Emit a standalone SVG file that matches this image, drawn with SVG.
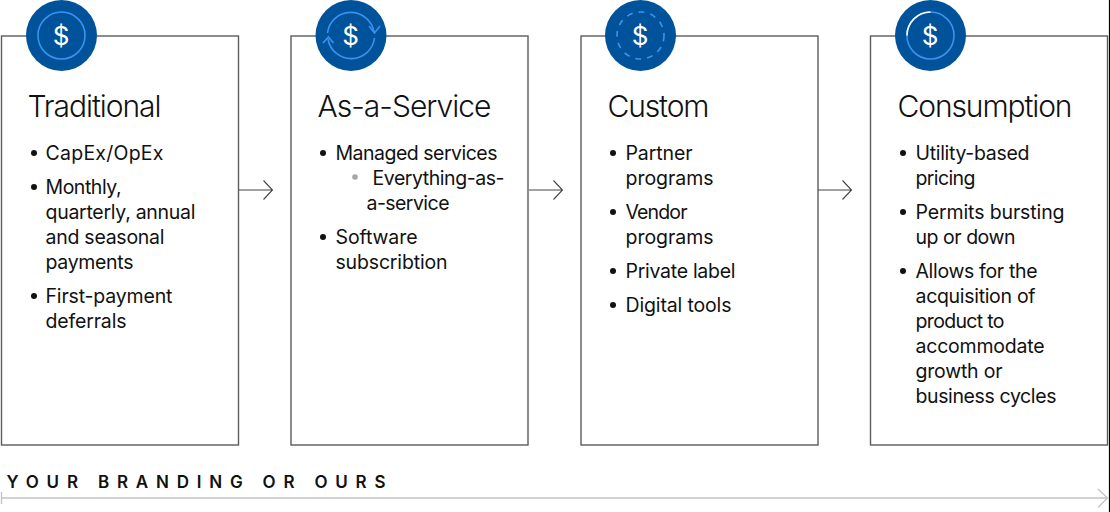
<svg xmlns="http://www.w3.org/2000/svg" width="1110" height="512" viewBox="0 0 1110 512">
<style>
text{font-family:"Inter","Liberation Sans",sans-serif;fill:#111}
.box{fill:#fff;stroke:#5c5c5c;stroke-width:1.4}
.disc{fill:#00539a}
.ring{fill:none;stroke:#3b92ee;stroke-width:1.6}
.head{fill:none;stroke:#3b92ee;stroke-width:1.6}
.dollar{font-size:26px;fill:#fff;text-anchor:middle;font-weight:400}
.title{font-size:30px;font-weight:300}
.body{font-size:19.500px;font-weight:400}
.bul{fill:#111}
.conn{fill:none;stroke:#444;stroke-width:1.1}
.span{fill:none;stroke:#c4c4c4;stroke-width:1.4}
</style>
<rect width="1110" height="512" fill="#fff"/>
<g id="connectors">
<path class="conn" d="M239 190H272M263.500 180.500L272.500 190L263.500 199.500"/>
<path class="conn" d="M529 190H562M553.500 180.500L562.500 190L553.500 199.500"/>
<path class="conn" d="M818 190H851M842.500 180.500L851.500 190L842.500 199.500"/>
<path class="span" d="M1.500 498H1107M1098 489L1107.500 498L1098 507.500"/>
<path class="span" d="M1.500 492V504" stroke-width="1"/>
</g>
<g id="node-traditional">
<rect class="box" x="1.500" y="36" width="237" height="409"/>
<circle class="disc" cx="61.500" cy="35.500" r="35.500"/>
<circle class="ring" cx="61.500" cy="35.500" r="23.500"/>
<text class="dollar" x="61" y="45">$</text>
<text class="title" x="27.500" y="117" textLength="134">Traditional</text>
<circle class="bul" cx="34" cy="153" r="3"/><text class="body" x="45.500" y="160" textLength="118">CapEx/OpEx</text>
<circle class="bul" cx="34" cy="187" r="3"/><text class="body" x="45.500" y="194" textLength="76">Monthly,</text>
<text class="body" x="45.500" y="219" textLength="150">quarterly, annual</text>
<text class="body" x="45.500" y="244" textLength="119">and seasonal</text>
<text class="body" x="45.500" y="269" textLength="88">payments</text>
<circle class="bul" cx="34" cy="296" r="3"/><text class="body" x="45.500" y="303" textLength="127">First-payment</text>
<text class="body" x="45.500" y="328" textLength="81">deferrals</text>
</g>
<g id="node-as-a-service">
<rect class="box" x="291" y="36" width="237" height="409"/>
<circle class="disc" cx="351" cy="35.500" r="35.500"/>
<path class="ring" d="M327.500 33A23.500 23.500 0 0 1 374 32"/>
<path class="ring" d="M374.500 38A23.500 23.500 0 0 1 328 39"/>
<path class="head" d="M369 26L374.500 33L380 26M323 43L328.500 37L333.500 43"/>
<text class="dollar" x="350.500" y="45">$</text>
<text class="title" x="317.500" y="117" textLength="174">As-a-Service</text>
<circle class="bul" cx="323" cy="153" r="3"/><text class="body" x="335.500" y="160" textLength="162">Managed services</text>
<circle cx="355" cy="177" r="2.800" fill="#a6a6a6"/><text class="body" x="372.500" y="185" textLength="132">Everything-as-</text>
<text class="body" x="366.500" y="210" textLength="83">a-service</text>
<circle class="bul" cx="323" cy="237" r="3"/><text class="body" x="335.500" y="244" textLength="82">Software</text>
<text class="body" x="335.500" y="269" textLength="112">subscribtion</text>
</g>
<g id="node-custom">
<rect class="box" x="581" y="36" width="237" height="409"/>
<circle class="disc" cx="640.500" cy="35.500" r="35.500"/>
<circle class="ring" cx="640.500" cy="35.500" r="23.500" stroke-dasharray="6 6"/>
<text class="dollar" x="640" y="45">$</text>
<text class="title" x="607.500" y="117" textLength="102">Custom</text>
<circle class="bul" cx="613" cy="153" r="3"/><text class="body" x="625.500" y="160" textLength="67">Partner</text>
<text class="body" x="625.500" y="185" textLength="88">programs</text>
<circle class="bul" cx="613" cy="212" r="3"/><text class="body" x="625.500" y="219" textLength="62">Vendor</text>
<text class="body" x="625.500" y="244" textLength="88">programs</text>
<circle class="bul" cx="613" cy="271" r="3"/><text class="body" x="625.500" y="278" textLength="110">Private label</text>
<circle class="bul" cx="613" cy="305" r="3"/><text class="body" x="625.500" y="312" textLength="106">Digital tools</text>
</g>
<g id="node-consumption">
<rect class="box" x="870.500" y="36" width="237" height="409"/>
<circle class="disc" cx="930.500" cy="35.500" r="35.500"/>
<circle class="ring" cx="930.500" cy="35.500" r="23.500"/>
<path d="M907 35.500A23.500 23.500 0 0 1 930.500 12" fill="none" stroke="#fff" stroke-width="1.600"/>
<text class="dollar" x="930" y="45">$</text>
<text class="title" x="897.500" y="117" textLength="175">Consumption</text>
<circle class="bul" cx="903" cy="153" r="3"/><text class="body" x="915.500" y="160" textLength="114">Utility-based</text>
<text class="body" x="915.500" y="185" textLength="60">pricing</text>
<circle class="bul" cx="903" cy="212" r="3"/><text class="body" x="915.500" y="219" textLength="149">Permits bursting</text>
<text class="body" x="915.500" y="244" textLength="100">up or down</text>
<circle class="bul" cx="903" cy="271" r="3"/><text class="body" x="915.500" y="278" textLength="122">Allows for the</text>
<text class="body" x="915.500" y="303" textLength="120">acquisition of</text>
<text class="body" x="915.500" y="328" textLength="89">product to</text>
<text class="body" x="915.500" y="353" textLength="129">accommodate</text>
<text class="body" x="915.500" y="378" textLength="87">growth or</text>
<text class="body" x="915.500" y="403" textLength="141">business cycles</text>
</g>
<text id="banner" x="6.500" y="488" textLength="379" style="font-size:17px;font-weight:600">YOUR BRANDING OR OURS</text>
<path d="M1109.500 0V512" stroke="#000" stroke-width="1.200" fill="none"/>
</svg>
